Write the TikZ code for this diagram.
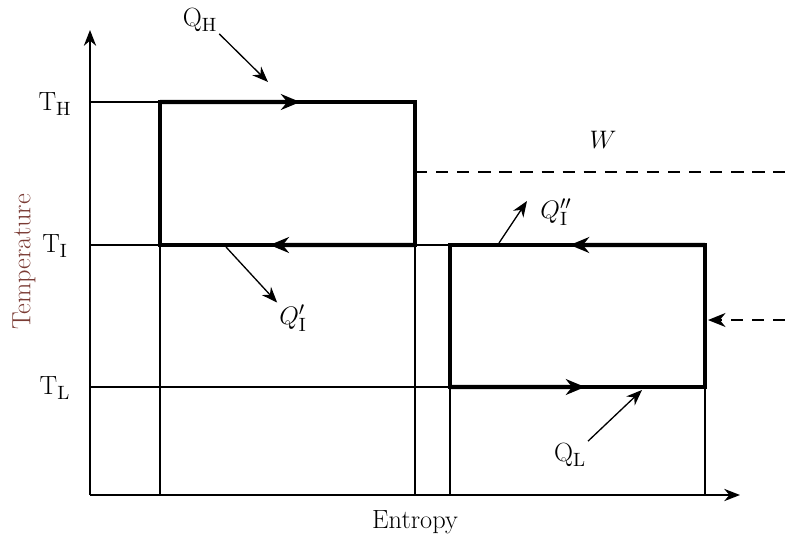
\documentclass[tikz,border=0pt]{standalone}
\usepackage{tikz}
\usetikzlibrary{arrows.meta, positioning, calc}
\definecolor{axislabel}{HTML}{7A3B34}

\begin{document}
\begin{tikzpicture}[
  x=0.02cm, y=-0.02cm,
  font=\fontsize{15}{18}\selectfont,
  axis/.style={line width=0.8pt, -{Stealth[length=9pt, width=7pt]}},
  thin line/.style={line width=0.75pt},
  cycle/.style={line width=2.4pt, line join=miter},
  flow/.style={line width=2.4pt, -{Stealth[length=11pt, width=9pt]}},
  heat/.style={line width=0.75pt, -{Stealth[length=9pt, width=7pt]}},
  work/.style={line width=0.8pt, dashed, dash pattern=on 7pt off 5pt},
  lbl/.style={inner sep=1pt}
]
  \useasboundingbox (0,0) rectangle (785,542);

  % axes
  \coordinate (origin) at (90,495);
  \coordinate (ytip)   at (90,30);
  \coordinate (xtip)   at (740,495);
  \draw[axis] (origin) -- (ytip);
  \draw[axis] (origin) -- (xtip);
  \node[rotate=90, text=axislabel] (templbl) at (24,262) {Temperature};
  \node (entlbl) at (415,522) {Entropy};

  % temperature levels
  \node[lbl] (TH) at (55,104) {T$_{\mathrm{H}}$};
  \node[lbl] (TI) at (55,246) {T$_{\mathrm{I}}$};
  \node[lbl] (TL) at (55,388) {T$_{\mathrm{L}}$};
  \coordinate (hL) at (90,102);
  \coordinate (iL) at (90,245);
  \coordinate (lL) at (90,387);

  % corners of the two cycles
  \coordinate (a1) at (160,102);
  \coordinate (b1) at (415,102);
  \coordinate (c1) at (415,245);
  \coordinate (d1) at (160,245);
  \coordinate (a2) at (450,245);
  \coordinate (b2) at (705,245);
  \coordinate (c2) at (705,387);
  \coordinate (d2) at (450,387);

  % thin guide lines
  \draw[thin line] (hL) -- (a1);
  \draw[thin line] (iL) -- (a2);
  \draw[thin line] (lL) -- (d2);
  \draw[thin line] (d1) -- (d1 |- origin);
  \draw[thin line] (c1) -- (c1 |- origin);
  \draw[thin line] (d2) -- (d2 |- origin);
  \draw[thin line] (c2) -- (c2 |- origin);

  % cycles
  \draw[cycle] (a1) -- (b1) -- (c1) -- (d1) -- cycle;
  \draw[cycle] (a2) -- (b2) -- (c2) -- (d2) -- cycle;
  \draw[flow] (a1) -- ($(a1)!0.55!(b1)$);
  \draw[flow] (c1) -- ($(c1)!0.57!(d1)$);
  \draw[flow] (b2) -- ($(b2)!0.53!(a2)$);
  \draw[flow] (d2) -- ($(d2)!0.53!(c2)$);

  % heat flows
  \node[lbl] (QH) at (200,20) {Q$_{\mathrm{H}}$};
  \coordinate (qh) at (268,82);
  \draw[heat] (QH.south east) -- (qh);

  \node[lbl] (QI1) at (293,318) {$Q'_{\mathrm{I}}$};
  \coordinate (qi1) at (226,247);
  \draw[heat] (qi1) -- (QI1.north west);

  \node[lbl] (QI2) at (556,212) {$Q''_{\mathrm{I}}$};
  \coordinate (qi2) at (499,243);
  \coordinate (qi2tip) at (527,201);
  \draw[heat] (qi2) -- (qi2tip);

  \node[lbl] (QL) at (570,455) {Q$_{\mathrm{L}}$};
  \coordinate (ql) at (642,390);
  \draw[heat] (QL.north east) -- (ql);

  % work
  \node (W) at (603,140) {$W$};
  \coordinate (wR) at (785,172);
  \draw[work] (c1 |- wR) -- (wR);
  \coordinate (win) at (785,320);
  \coordinate (wout) at (708,320);
  \draw[work, -{Stealth[length=10pt, width=8pt]}] (win) -- (wout);
\end{tikzpicture}
\end{document}
